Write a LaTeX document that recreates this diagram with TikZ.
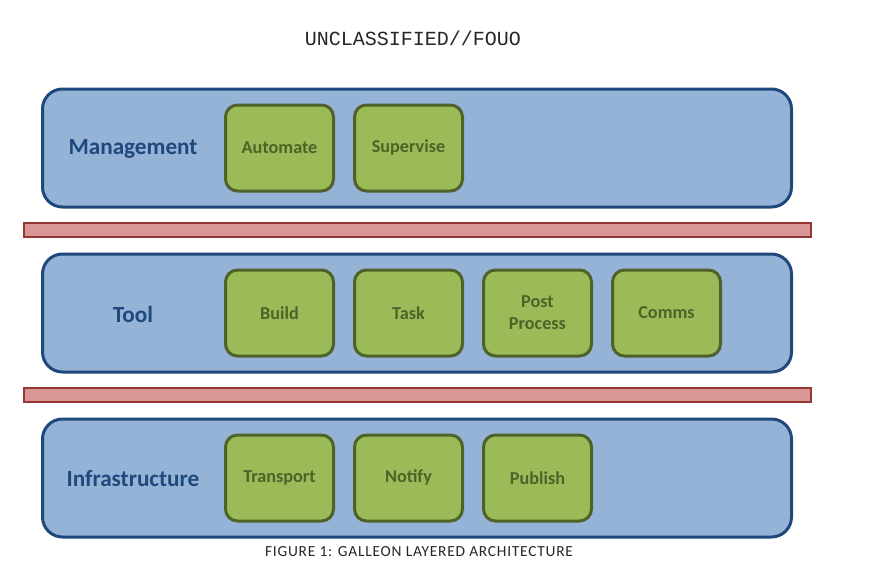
\documentclass[tikz,border=0pt]{standalone}
\usepackage{fontspec}
\setmainfont{Carlito}
\newfontfamily\headfont{Liberation Mono}
\newfontfamily\capfont[LetterSpace=5]{Carlito}
\usepackage{xcolor}
\usetikzlibrary{positioning}

\definecolor{layerfill}{HTML}{95B3D7}
\definecolor{layerdraw}{HTML}{1F497D}
\definecolor{modfill}{HTML}{9BBB59}
\definecolor{moddraw}{HTML}{4F6228}
\definecolor{barfill}{HTML}{D99694}
\definecolor{bardraw}{HTML}{953735}

\begin{document}
\begin{tikzpicture}[
    x=1pt, y=-1pt,
    node distance=18pt,
    layer/.style={rectangle, draw=layerdraw, fill=layerfill, line width=3pt, rounded corners=20pt, minimum width=749pt, minimum height=118pt},
    sepbar/.style={rectangle, draw=bardraw, fill=barfill, line width=2pt, minimum width=787pt, minimum height=14pt},
    module/.style={rectangle, draw=moddraw, fill=modfill, line width=3pt, rounded corners=12pt, minimum width=108pt, minimum height=86pt, align=center, text=moddraw, font=\fontsize{18.2}{22}\selectfont\bfseries},
    layername/.style={text=layerdraw, font=\fontsize{23.2}{26}\selectfont\bfseries}
]
\useasboundingbox (0,0) rectangle (877,571);

% Header and caption
\node[font=\headfont\fontsize{20}{22}\selectfont, text=black!85] (header) at (413,38) {UNCLASSIFIED//FOUO};

% Layers
\node[layer] (mgmt) at (417,148) {};
\node[sepbar] (bar1) at (417.5,230) {};
\node[layer] (tool) at (417,313) {};
\node[sepbar] (bar2) at (417.5,395) {};
\node[layer] (infra) at (417,478) {};

\node[font=\capfont\fontsize{15.4}{17}\selectfont, text=black!85] (caption) at (419,552) {FIGURE 1: GALLEON LAYERED ARCHITECTURE};

% Layer names
\node[layername] (mgmt_name) at (133,149) {Management};
\node[layername] (tool_name) at (133,314) {Tool};
\node[layername] (infra_name) at (133,479) {Infrastructure};

% Management modules
\node[module] (automate) at (279.5,148) {Automate};
\node[module, right=of automate] (supervise) {Supervise};

% Tool modules
\node[module] (build) at (279.5,313) {Build};
\node[module, right=of build] (task) {Task};
\node[module, right=of task] (postproc) {Post\\Process};
\node[module, right=of postproc] (comms) {Comms};

% Infrastructure modules
\node[module] (transport) at (279.5,478) {Transport};
\node[module, right=of transport] (notify) {Notify};
\node[module, right=of notify] (publish) {Publish};

\end{tikzpicture}
\end{document}
